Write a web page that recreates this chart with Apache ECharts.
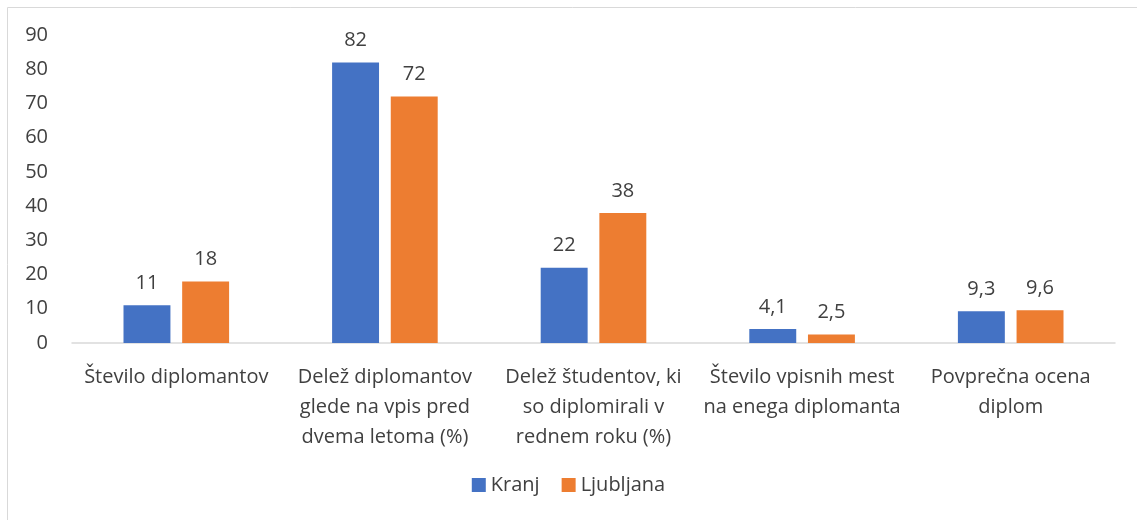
<!DOCTYPE html>
<html>
<head>
<meta charset="utf-8">
<script src="https://cdn.jsdelivr.net/npm/echarts@6/dist/echarts.min.js"></script>
<style>
  html, body { margin: 0; padding: 0; background: #fff; }
  #main { width: 1137px; height: 520px; }
</style>
</head>
<body>
<div id="main"></div>
<script>
// podatki
const categories = [
  'Število diplomantov',
  'Delež diplomantov\nglede na vpis pred\ndvema letoma (%)',
  'Delež študentov, ki\nso diplomirali v\nrednem roku (%)',
  'Število vpisnih mest\nna enega diplomanta',
  'Povprečna ocena\ndiplom'
];
const kranj = [11, 82, 22, 4.1, 9.3];
const ljubljana = [18, 72, 38, 2.5, 9.6];
const yTicks = [0, 10, 20, 30, 40, 50, 60, 70, 80, 90];

const myChart = echarts.init(document.getElementById('main'));

const font = 'Open Sans';
const textColor = '#404040';
const fs = 20;

const labelOpt = {
  show: true,
  position: 'top',
  distance: 12,
  color: textColor,
  fontFamily: font,
  fontSize: fs,
  formatter: p => String(p.value).replace('.', ',')
};

const options = {
  textStyle: { fontFamily: font },
  animation: false,
  graphic: [{
    type: 'rect',
    shape: { x: 7.5, y: 7.5, width: 1140, height: 520 },
    style: { fill: 'none', stroke: '#d9d9d9', lineWidth: 1 },
    silent: true
  }],
  grid: {
    left: 72,
    right: 22,
    top: 35,
    bottom: 177
  },
  legend: {
    bottom: 20,
    left: 'center',
    itemWidth: 14,
    itemHeight: 14,
    itemGap: 22,
    icon: 'rect',
    textStyle: { color: textColor, fontSize: fs, fontFamily: font },
    data: ['Kranj', 'Ljubljana']
  },
  xAxis: {
    type: 'category',
    data: categories,
    axisLine: { lineStyle: { color: '#d9d9d9', width: 1.5 } },
    axisTick: { show: false },
    axisLabel: {
      color: textColor,
      fontSize: fs,
      fontFamily: font,
      lineHeight: 30,
      margin: 19,
      interval: 0
    }
  },
  yAxis: {
    type: 'value',
    min: 0,
    max: 90,
    interval: 10,
    axisLine: { show: false },
    axisTick: { show: false },
    splitLine: { show: false },
    axisLabel: {
      color: textColor,
      fontSize: fs,
      fontFamily: font,
      margin: 24,
      formatter: v => yTicks.includes(v) ? String(v) : ''
    }
  },
  series: [
    {
      name: 'Kranj',
      type: 'bar',
      data: kranj,
      barWidth: '22.5%',
      barGap: '25%',
      itemStyle: { color: '#4472C4' },
      label: labelOpt
    },
    {
      name: 'Ljubljana',
      type: 'bar',
      data: ljubljana,
      barWidth: '22.5%',
      itemStyle: { color: '#ED7D31' },
      label: labelOpt
    }
  ]
};

myChart.setOption(options);
</script>
</body>
</html>
